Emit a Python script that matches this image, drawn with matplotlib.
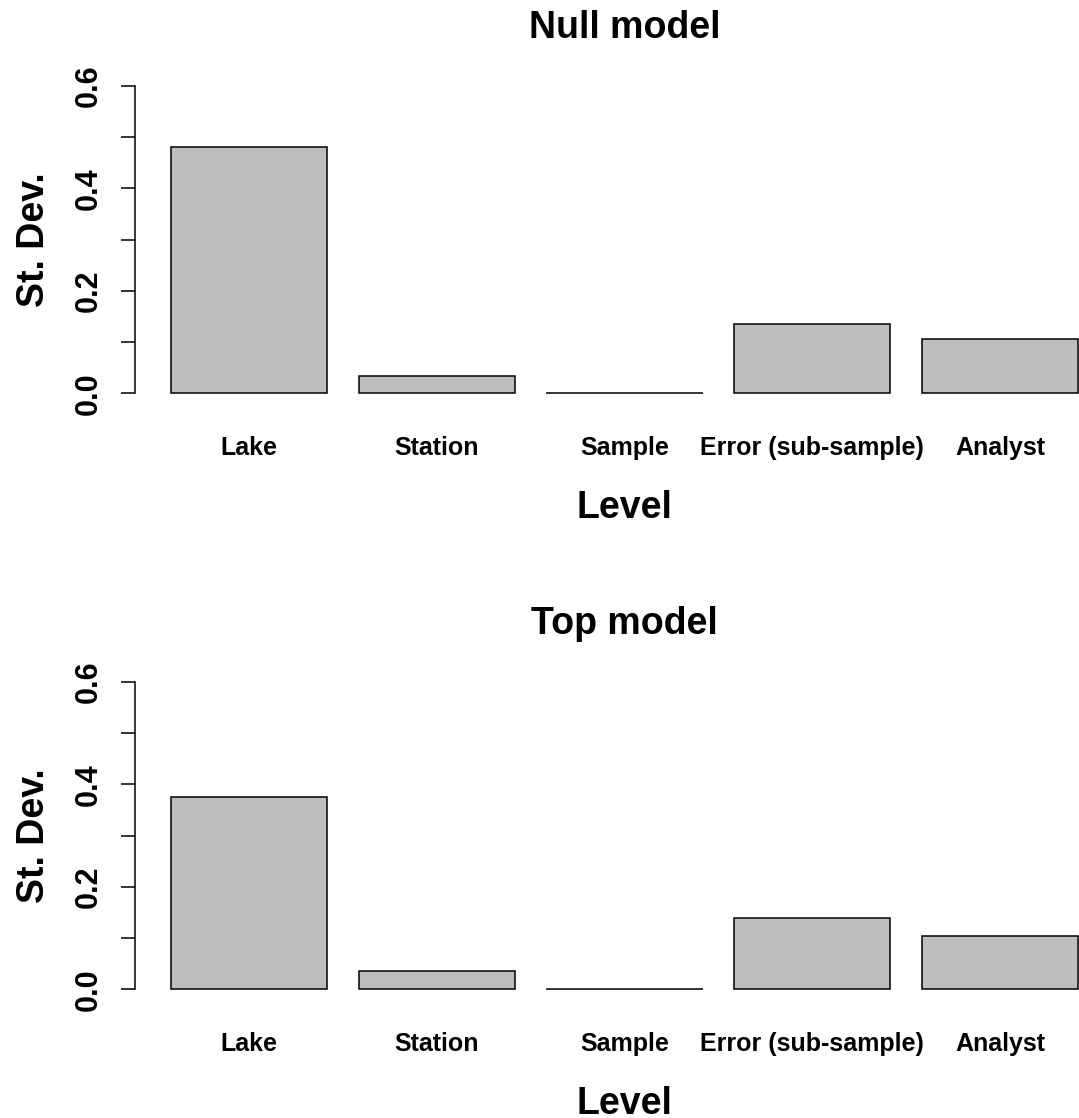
import matplotlib

matplotlib.use("Agg")
import matplotlib.pyplot as plt
import numpy as np

LEVELS = ["Lake", "Station", "Sample", "Error (sub-sample)", "Analyst"]
NULL_SD = [0.481, 0.034, 0.001, 0.136, 0.107]
TOP_SD = [0.376, 0.035, 0.001, 0.140, 0.105]
PANEL_TITLES = ["Null model", "Top model"]
YTICKS = [0.0, 0.1, 0.2, 0.3, 0.4, 0.5, 0.6]
YTICK_LABELS = ["0.0", "", "0.2", "", "0.4", "", "0.6"]

BAR_COLOR = "#bebebe"
BAR_WIDTH = 1.0
BAR_SPACE = 0.2

plt.rcParams["font.family"] = ["Liberation Sans", "DejaVu Sans"]
plt.rcParams["font.weight"] = "bold"

W, H = 1079, 1118
fig = plt.figure(figsize=(W / 100, H / 100), dpi=100)

# barplot-style layout: each bar is 1 wide with a 0.2 gap before it
x_left = BAR_SPACE + np.arange(len(LEVELS)) * (BAR_WIDTH + BAR_SPACE)
x_mid = x_left + BAR_WIDTH / 2
x_lo, x_hi = x_left[0], x_left[-1] + BAR_WIDTH
pad_x = 0.04 * (x_hi - x_lo)

# axes boxes in pixels: (left, top, width, height)
boxes = [(134.5, 73.7, 980.0, 331.9), (134.5, 669.7, 980.0, 331.9)]


def draw_panel(ax, values, title):
    ax.bar(x_left, values, width=BAR_WIDTH, align="edge", color=BAR_COLOR,
           edgecolor="black", linewidth=1.1)
    ax.set_xlim(x_lo - pad_x, x_hi + pad_x)
    ax.set_ylim(-0.024, 0.624)

    for side in ["top", "right", "bottom"]:
        ax.spines[side].set_visible(False)
    ax.spines["left"].set_bounds(0, 0.6)
    ax.spines["left"].set_linewidth(1.1)

    ax.set_yticks(YTICKS)
    ax.set_yticklabels(YTICK_LABELS, rotation=90, va="center", fontsize=22,
                       fontweight="bold")
    ax.tick_params(axis="y", length=10, width=1.1, pad=12)

    ax.set_xticks(x_mid)
    ax.set_xticklabels(LEVELS, fontsize=18, fontweight="bold")
    ax.tick_params(axis="x", length=0, pad=22)

    ax.annotate(title, xy=(0.5, 1), xycoords="axes fraction",
                xytext=(0, 25.7), textcoords="offset points",
                ha="center", va="baseline", fontsize=27, fontweight="bold")
    ax.annotate("Level", xy=(0.5, 0), xycoords="axes fraction",
                xytext=(0, -80.9), textcoords="offset points",
                ha="center", va="baseline", fontsize=27, fontweight="bold")
    ax.annotate("St. Dev.", xy=(0, 0.5), xycoords="axes fraction",
                xytext=(-65.5, 0), textcoords="offset points",
                ha="center", va="baseline", rotation=90,
                rotation_mode="anchor", fontsize=27, fontweight="bold")


for (left, top, width, height), values, title in zip(
        boxes, [NULL_SD, TOP_SD], PANEL_TITLES):
    ax = fig.add_axes([left / W, (H - top - height) / H, width / W, height / H])
    draw_panel(ax, values, title)

fig.savefig("out.png", dpi=100, facecolor="white")
